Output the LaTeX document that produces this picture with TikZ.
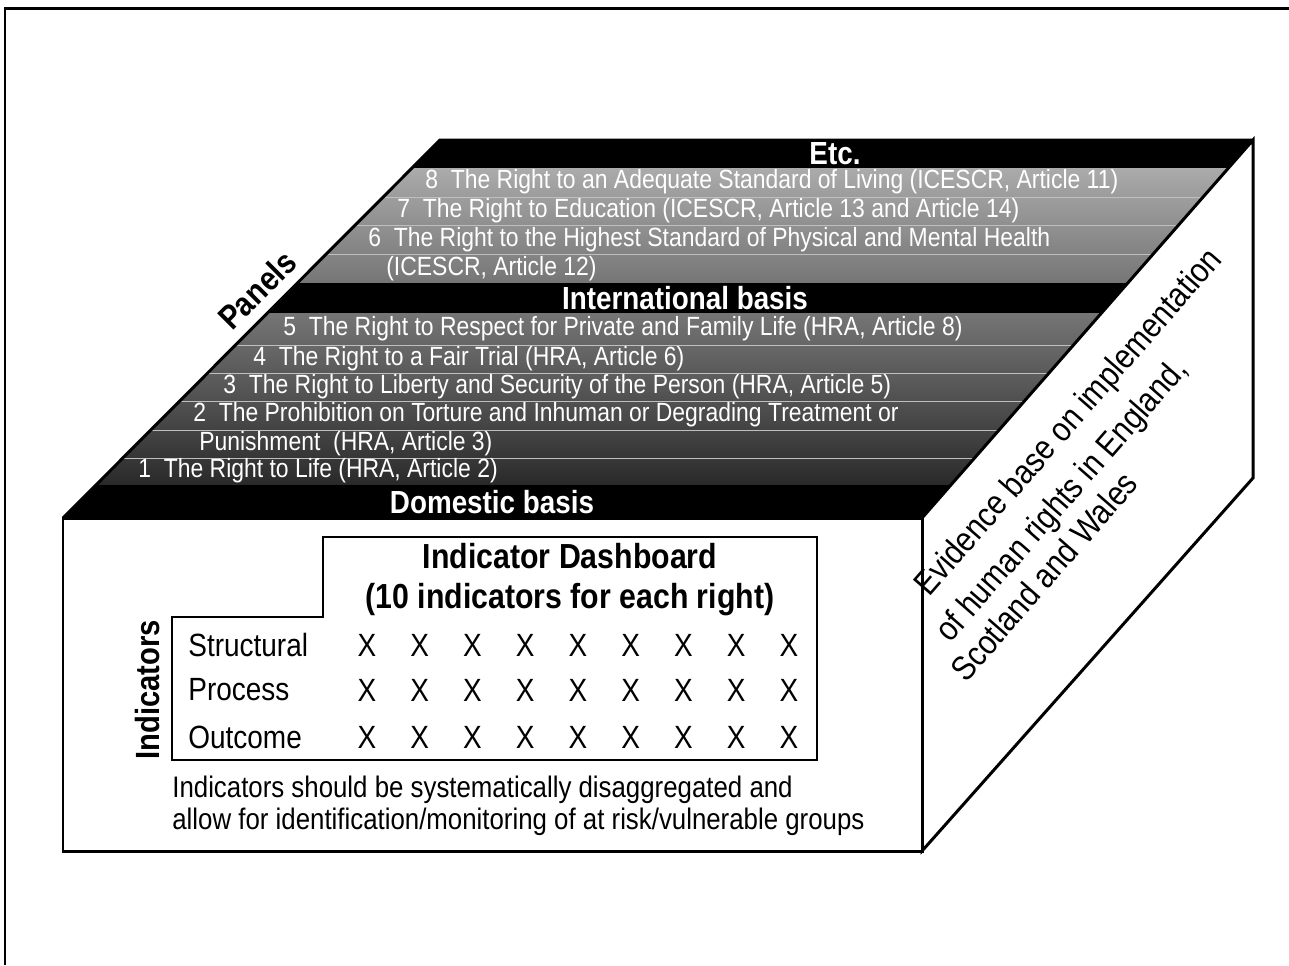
\documentclass[tikz,border=0pt]{standalone}
\usepackage{fontspec}
\setmainfont{Liberation Sans}[FakeStretch=0.87]
\begin{document}
\begin{tikzpicture}[x=0.02cm, y=-0.02cm, line join=miter,
  edge/.style={line width=1.7pt},
  rowtxt/.style={anchor=west, text=white, inner sep=0pt, font=\fontsize{15}{17}\selectfont},
  bandtxt/.style={text=white, inner sep=0pt, font=\fontsize{18.2}{20}\selectfont\bfseries},
  lbltxt/.style={anchor=west, inner sep=0pt, font=\fontsize{18.3}{20}\selectfont},
  xmark/.style={inner sep=0pt, font=\fontsize{18.3}{20}\selectfont},
  evidtxt/.style={rotate=48.9, anchor=base west, inner sep=0pt, font=\fontsize{19.5}{22}\selectfont}]

\useasboundingbox (0,0) rectangle (1289,965);
\draw[edge] (5,965) -- (5,8) -- (1289,8);

\begin{scope}
  \clip (440,140) -- (1253,140) -- (922,518) -- (63,518) -- cycle;
  \fill[black] (0,140) rectangle (1289,168);
  \shade[top color=black!33, bottom color=black!39] (0,168) rectangle (1289,197);
  \shade[top color=black!38, bottom color=black!44] (0,197) rectangle (1289,225);
  \shade[top color=black!43, bottom color=black!49] (0,225) rectangle (1289,254);
  \shade[top color=black!48, bottom color=black!54] (0,254) rectangle (1289,283);
  \fill[black] (0,283) rectangle (1289,313);
  \shade[top color=black!54, bottom color=black!60] (0,313) rectangle (1289,345);
  \shade[top color=black!59, bottom color=black!65] (0,345) rectangle (1289,373);
  \shade[top color=black!63, bottom color=black!69] (0,373) rectangle (1289,401);
  \shade[top color=black!68, bottom color=black!74] (0,401) rectangle (1289,430);
  \shade[top color=black!73, bottom color=black!79] (0,430) rectangle (1289,458);
  \shade[top color=black!78, bottom color=black!84] (0,458) rectangle (1289,485);
  \fill[black] (0,485) rectangle (1289,518);
  \draw[black!25, line width=0.4pt] (0,197) -- (1289,197) (0,225) -- (1289,225)
    (0,254) -- (1289,254) (0,345) -- (1289,345) (0,373) -- (1289,373)
    (0,401) -- (1289,401) (0,430) -- (1289,430) (0,458) -- (1289,458);
\end{scope}
\draw[edge] (63,518) -- (440,140) -- (1253,140);
\filldraw[edge, fill=white] (922,518) -- (1253,140) -- (1253,478) -- (922,851) -- cycle;
\filldraw[edge, fill=white] (63,518) rectangle (922,851);

\node[bandtxt] (etc) at (835,154) {Etc.};
\node[rowtxt] (r8) at (425,182) {8\ \ The Right to an Adequate Standard of Living (ICESCR, Article 11)};
\node[rowtxt] (r7) at (397,211) {7\ \ The Right to Education (ICESCR, Article 13 and Article 14)};
\node[rowtxt] (r6) at (368,240) {6\ \ The Right to the Highest Standard of Physical and Mental Health};
\node[rowtxt] (r6b) at (386,269) {(ICESCR, Article 12)};
\node[bandtxt] (intl) at (685,298) {International basis};
\node[rowtxt] (r5) at (283,329) {5\ \ The Right to Respect for Private and Family Life (HRA, Article 8)};
\node[rowtxt] (r4) at (253,359) {4\ \ The Right to a Fair Trial (HRA, Article 6)};
\node[rowtxt] (r3) at (223,387) {3\ \ The Right to Liberty and Security of the Person (HRA, Article 5)};
\node[rowtxt] (r2) at (193,415) {2\ \ The Prohibition on Torture and Inhuman or Degrading Treatment or};
\node[rowtxt] (r2b) at (199,444) {Punishment\ \ (HRA, Article 3)};
\node[rowtxt] (r1) at (138,471) {1\ \ The Right to Life (HRA, Article 2)};
\node[bandtxt] (dom) at (492,502) {Domestic basis};

\node[rotate=45, font=\fontsize{19.1}{21}\selectfont\bfseries] (panels) at (257,290) {Panels};
\node[evidtxt] (evid1) at (929,598) {Evidence base on implementation};
\node[evidtxt] (evid2) at (950,644) {of human rights in England,};
\node[evidtxt] (evid3) at (966,684) {Scotland and Wales};

\draw[line width=1.2pt] (323,617) -- (323,537) -- (817,537) -- (817,760) -- (172,760) -- (172,617) -- cycle;
\node[align=center, inner sep=0pt, font=\fontsize{19.8}{22.7}\selectfont\bfseries] (dash) at (570,580)
  {Indicator Dashboard\\(10 indicators for each right)};
\node[rotate=90, inner sep=0pt, font=\fontsize{19.1}{21}\selectfont\bfseries] (ind) at (148,690) {Indicators};
\node[lbltxt] (struct) at (188,645) {Structural};
\node[lbltxt] (proc) at (188,690) {Process};
\node[lbltxt] (outc) at (188,737) {Outcome};
\foreach \y in {645,690,737}
  \foreach \i in {0,...,8}
    \node[xmark] at (367+52.75*\i,\y) {X};
\node[anchor=north west, align=left, inner sep=0pt, font=\fontsize{16.9}{18.1}\selectfont] (foot) at (172,776)
  {Indicators should be systematically disaggregated and\\allow for identification/monitoring of at risk/vulnerable groups};
\end{tikzpicture}
\end{document}
